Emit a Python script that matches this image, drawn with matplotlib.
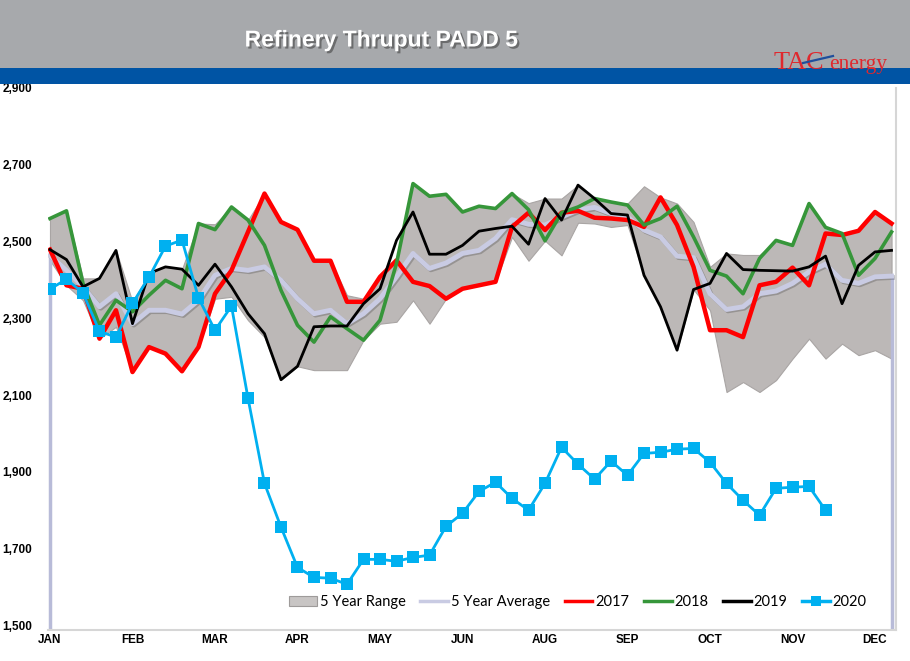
import numpy as np
import matplotlib
matplotlib.use("Agg")
import matplotlib.pyplot as plt
import matplotlib.patheffects as pe
from matplotlib.patches import Rectangle, Patch
from matplotlib.lines import Line2D

# weekly data, kb/d
weeks = np.arange(52)
month_ticks = [0, 5, 10, 15, 20, 25, 30, 35, 40, 45, 50]
month_labels = ['JAN', 'FEB', 'MAR', 'APR', 'MAY', 'JUN', 'AUG', 'SEP', 'OCT', 'NOV', 'DEC']

range_hi = [2560, 2580, 2404, 2404, 2477, 2343, 2417, 2434, 2428, 2547,
            2545, 2590, 2556, 2625, 2551, 2531, 2450, 2450, 2360, 2351,
            2408, 2451, 2651, 2618, 2623, 2577, 2592, 2586, 2625, 2600,
            2612, 2612, 2647, 2612, 2603, 2599, 2644, 2615, 2599, 2551,
            2434, 2469, 2465, 2465, 2503, 2490, 2599, 2537, 2521, 2528,
            2577, 2547]
range_lo = [2451, 2386, 2347, 2247, 2278, 2160, 2225, 2208, 2160, 2225,
            2351, 2356, 2295, 2251, 2140, 2175, 2165, 2165, 2165, 2243,
            2286, 2291, 2347, 2286, 2351, 2377, 2386, 2395, 2512, 2450,
            2502, 2464, 2549, 2547, 2538, 2543, 2412, 2330, 2217, 2375,
            2321, 2108, 2134, 2108, 2139, 2195, 2247, 2195, 2234, 2204,
            2217, 2195]
avg_5yr = [2464, 2425, 2382, 2330, 2364, 2286, 2321, 2321, 2311, 2347,
           2412, 2430, 2425, 2434, 2399, 2351, 2312, 2321, 2286, 2312,
           2351, 2408, 2469, 2430, 2444, 2469, 2477, 2508, 2557, 2545,
           2543, 2564, 2582, 2589, 2573, 2564, 2530, 2512, 2462, 2458,
           2364, 2323, 2330, 2364, 2371, 2391, 2421, 2441, 2399, 2391,
           2408, 2410]
y2017 = [2479, 2386, 2377, 2247, 2321, 2160, 2225, 2208, 2162, 2225,
         2364, 2425, 2525, 2625, 2551, 2531, 2450, 2450, 2343, 2343,
         2408, 2451, 2395, 2384, 2351, 2377, 2386, 2395, 2538, 2575,
         2530, 2575, 2580, 2562, 2560, 2556, 2538, 2615, 2543, 2434,
         2269, 2269, 2251, 2386, 2395, 2432, 2386, 2521, 2517, 2528,
         2577, 2547]
y2018 = [2560, 2580, 2391, 2282, 2347, 2317, 2360, 2399, 2377, 2547,
         2531, 2590, 2556, 2490, 2373, 2282, 2238, 2304, 2273, 2243,
         2295, 2443, 2651, 2618, 2623, 2577, 2592, 2586, 2625, 2583,
         2502, 2575, 2590, 2612, 2603, 2595, 2543, 2560, 2592, 2512,
         2425, 2410, 2364, 2456, 2503, 2490, 2599, 2537, 2521, 2412,
         2456, 2525]
y2019 = [2479, 2453, 2382, 2404, 2477, 2286, 2417, 2434, 2428, 2386,
         2441, 2382, 2312, 2260, 2140, 2175, 2278, 2280, 2280, 2338,
         2377, 2503, 2577, 2467, 2467, 2490, 2527, 2534, 2540, 2493,
         2612, 2556, 2647, 2612, 2573, 2569, 2412, 2330, 2217, 2375,
         2391, 2469, 2427, 2425, 2424, 2423, 2434, 2462, 2338, 2438,
         2473, 2477]
y2020 = [2376, 2402, 2366, 2266, 2251, 2339, 2407, 2488, 2504, 2353,
         2269, 2332, 2092, 1870, 1756, 1651, 1625, 1623, 1607, 1672,
         1672, 1667, 1677, 1683, 1758, 1792, 1849, 1873, 1831, 1800,
         1870, 1964, 1920, 1881, 1928, 1891, 1948, 1951, 1959, 1961,
         1925, 1870, 1826, 1787, 1857, 1860, 1862, 1800]
y_ticks = [1500, 1700, 1900, 2100, 2300, 2500, 2700, 2900]

W, H = 910, 661
fig = plt.figure(figsize=(W / 100, H / 100), dpi=100)

# header bands
fig.add_artist(Rectangle((0, 1 - 68 / H), 1, 68 / H, transform=fig.transFigure,
                         facecolor='#A7A9AC', edgecolor='none', zorder=5))
fig.add_artist(Rectangle((0, 1 - 84 / H), 1, 16 / H, transform=fig.transFigure,
                         facecolor='#0054A4', edgecolor='none', zorder=5))
fig.text(381 / W, 1 - 40 / H, 'Refinery Thruput PADD 5', color='white', fontsize=16.5,
         fontweight='bold', family='Liberation Sans', ha='center', va='center', zorder=6,
         path_effects=[pe.withSimplePatchShadow(offset=(1.5, -1.5), shadow_rgbFace='#444444', alpha=0.6)])
# logo
fig.text(774 / W, 1 - 69 / H, 'TAC', color='#E0282E', fontsize=19, family='Liberation Serif',
         ha='left', va='baseline', zorder=6)
fig.text(829 / W, 1 - 69 / H, 'energy', color='#E0282E', fontsize=15.5, family='Liberation Serif',
         ha='left', va='baseline', zorder=6)
fig.add_artist(Line2D([803 / W, 833 / W], [1 - 63 / H, 1 - 56 / H], transform=fig.transFigure,
                      color='#1F4E9C', lw=1.6, zorder=7))

ax = fig.add_axes([48 / W, 1 - 630 / H, 848 / W, 542 / H])
ax.set_xlim(-0.12, 51.27)
ax.set_ylim(1488, 2900)

ax.fill_between(weeks, range_lo, range_hi, facecolor='#BCB8B7', edgecolor='#A9A5A4', lw=0.8, zorder=1)
ax.vlines([0, 51], 1488, [avg_5yr[0], avg_5yr[-1]], color='#B8BBD8', lw=2.5, zorder=1.5)
ax.plot(weeks, avg_5yr, color='#C9CBE3', lw=3.5, zorder=2,
        path_effects=[pe.SimpleLineShadow(offset=(1, -1), alpha=0.2), pe.Normal()])
ax.plot(weeks, y2017, color='#FF0000', lw=3.2, zorder=3)
ax.plot(weeks, y2018, color='#36963A', lw=2.6, zorder=3.1)
ax.plot(weeks, y2019, color='black', lw=2.0, zorder=3.2)
ax.plot(weeks[:len(y2020)], y2020, color='#00B0F0', lw=2.0, marker='s', markersize=8,
        markeredgewidth=0, zorder=4)

for s in ['left', 'top']:
    ax.spines[s].set_visible(False)
for s in ['bottom', 'right']:
    ax.spines[s].set_color('#D6D6D6')
    ax.spines[s].set_linewidth(1.5)

ax.set_yticks(y_ticks)
ax.set_yticklabels([f'{v:,}' for v in y_ticks], fontsize=8.5, fontweight='bold', family='Liberation Sans')
for lab in ax.get_yticklabels():
    lab.set_ha('left')
ax.tick_params(axis='y', length=0, pad=33)
ax.set_xticks(month_ticks)
ax.set_xticklabels(month_labels, fontsize=8.5, fontweight='bold', family='Liberation Sans')
ax.tick_params(axis='x', length=0, pad=3)

handles = [Patch(facecolor='#C8C5C4', edgecolor='#9E9B9A', lw=0.8),
           Line2D([], [], color='#C9CBE3', lw=2.5),
           Line2D([], [], color='#FF0000', lw=2.5),
           Line2D([], [], color='#36963A', lw=2.5),
           Line2D([], [], color='black', lw=2.5),
           Line2D([], [], color='#00B0F0', lw=2.5, marker='s', markersize=7, markeredgewidth=0)]
labels = ['5 Year Range', '5 Year Average', '2017', '2018', '2019', '2020']
ax.legend(handles, labels, ncol=6, frameon=False, loc='center',
          bbox_to_anchor=((578 - 48) / 848, (630 - 602) / 542),
          prop={'family': 'Lato', 'size': 10.5}, handlelength=1.9, handletextpad=0.2,
          columnspacing=1.0)

fig.savefig('out.png', dpi=100)
